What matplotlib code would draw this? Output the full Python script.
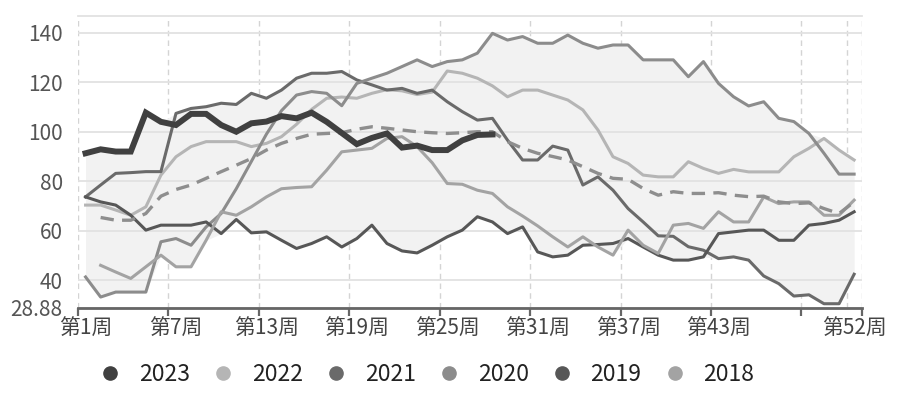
import numpy as np
import matplotlib
matplotlib.use("Agg")
import matplotlib.pyplot as plt
from matplotlib.lines import Line2D

plt.rcParams['font.family'] = ['Noto Sans CJK SC', 'DejaVu Sans']

nan = np.nan
weeks = np.arange(1, 53)

# weekly values
s2023 = [91.3, 92.9, 92.0, 92.0, 107.7, 104.0, 102.7, 107.2, 107.2, 102.7,
         100.0, 103.4, 104.1, 106.3, 105.4, 107.7, 104.0, 99.5, 95.0, 97.5,
         99.3, 93.6, 94.4, 92.6, 92.6, 96.5, 98.7, 98.9] + [nan] * 24
s2022 = [70.4, 70.4, 68.4, 66.3, 69.7, 82.5, 89.9, 94.0, 96.0, 96.0,
         96.0, 94.0, 95.3, 98.0, 103.0, 109.0, 113.5, 114.0, 113.5, 115.5,
         117.0, 116.5, 115.0, 116.0, 124.5, 123.6, 121.6, 118.5, 114.1, 116.8,
         116.8, 114.8, 112.8, 108.8, 100.7, 89.9, 87.2, 82.5, 81.8, 81.8,
         87.9, 85.2, 83.2, 84.8, 83.8, 83.8, 83.8, 89.9, 93.3, 97.3,
         92.6, 88.6]
s2021 = [73.7, 78.5, 83.2, 83.5, 83.9, 83.9, 107.4, 109.4, 110.1, 111.5,
         111.0, 115.5, 113.5, 116.8, 121.6, 123.6, 123.6, 124.3, 120.9, 118.9,
         116.8, 117.5, 115.5, 116.8, 112.1, 108.1, 104.7, 105.4, 96.6, 88.6,
         88.6, 94.2, 92.6, 78.5, 81.8, 76.4, 69.0, 63.6, 58.0, 57.8,
         53.6, 52.2, 48.8, 49.5, 48.2, 41.8, 38.7, 33.7, 34.2, 30.6,
         30.6, 42.5]
s2020 = [41.4, 33.3, 35.3, 35.3, 35.3, 55.6, 56.9, 54.2, 61.6, 67.0,
         77.0, 88.0, 99.0, 108.5, 114.8, 116.2, 115.5, 110.5, 119.5, 121.6,
         123.6, 126.3, 129.0, 126.3, 128.3, 129.0, 131.7, 139.7, 137.0, 138.4,
         135.7, 135.7, 139.0, 135.7, 133.7, 135.0, 135.0, 129.0, 129.0, 129.0,
         122.2, 128.3, 119.5, 114.1, 110.4, 112.1, 105.4, 104.1, 99.3, 91.3,
         82.9, 82.9]
s2019 = [73.7, 71.7, 70.4, 66.3, 60.3, 62.3, 62.3, 62.3, 63.6, 58.9,
         64.6, 59.2, 59.6, 56.2, 52.9, 54.9, 57.6, 53.5, 56.9, 62.3,
         54.9, 51.9, 51.1, 54.2, 57.6, 60.3, 65.7, 63.6, 58.9, 61.6,
         51.5, 49.5, 50.2, 54.2, 54.5, 54.9, 56.9, 53.5, 50.2, 48.2,
         48.2, 49.5, 58.9, 59.6, 60.3, 60.3, 56.2, 56.2, 62.3, 63.0,
         64.3, 67.7]
s2018 = [nan, 46.1, 43.4, 40.8, 45.5, 50.2, 45.5, 45.5, 56.2, 67.7,
         66.3, 69.7, 73.7, 77.0, 77.5, 77.8, 84.5, 91.9, 92.6, 93.3,
         97.3, 98.0, 94.0, 87.5, 79.1, 78.8, 76.4, 75.1, 69.7, 66.0,
         62.0, 57.6, 53.5, 57.6, 53.5, 50.2, 60.3, 54.2, 50.9, 62.3,
         63.0, 61.0, 67.7, 63.6, 63.6, 73.7, 71.0, 71.7, 71.7, 66.3,
         66.3, 72.4]
avg = [nan, 65.4, 64.3, 64.3, 67.0, 74.0, 76.7, 78.5, 81.2, 83.9,
       86.5, 89.2, 92.6, 95.3, 97.3, 99.0, 99.3, 99.6, 101.0, 102.0,
       101.4, 100.7, 100.0, 99.6, 99.3, 99.6, 100.0, 100.0, 96.0, 93.3,
       91.3, 90.0, 88.6, 85.9, 83.2, 81.2, 80.8, 77.1, 74.4, 75.8,
       75.1, 75.1, 75.4, 74.4, 73.8, 74.0, 71.7, 71.0, 71.3, 69.0,
       67.0, 71.7]

years = ['2023', '2022', '2021', '2020', '2019', '2018']
series = [s2023, s2022, s2021, s2020, s2019, s2018]
colors = ['#404040', '#b5b5b5', '#6a6a6a', '#8c8c8c', '#575757', '#a3a3a3']

label_weeks = [1, 7, 13, 19, 25, 31, 37, 43, 52]
y_ticks = [28.88, 40, 60, 80, 100, 120, 140]

fig = plt.figure(figsize=(9, 3.93), dpi=100)
ax = fig.add_axes([0.0867, 0.2163, 0.8707, 0.743])

data = np.array(series, dtype=float)
lo = np.nanmin(data, axis=0)
hi = np.nanmax(data, axis=0)
ax.fill_between(weeks, lo, hi, color='#f2f2f2', lw=0, zorder=1)

ax.set_xlim(0.5, 52.5)
ax.set_ylim(28.88, 146.7)

# grid
ax.set_yticks(y_ticks)
ax.set_yticklabels(['28.88', '40', '60', '80', '100', '120', '140'])
ax.grid(axis='y', color='#e2e2e2', lw=1.3, zorder=0)
bounds = [0.5, 6.5, 12.5, 18.5, 24.5, 30.5, 36.5, 42.5, 48.5, 51.5, 52.5]
for b in bounds:
    ax.axvline(b, color='#d4d4d4', lw=1, ls=(0, (4, 3)), zorder=0.5)

for k in range(1, 6):
    ax.plot(weeks, series[k], color=colors[k], lw=2.2, zorder=3)
ax.plot(weeks, avg, color='#8e8e8e', lw=2.4, ls=(0, (4, 2.5)), zorder=4)
ax.plot(weeks, s2023, color=colors[0], lw=4.3, zorder=5, solid_joinstyle='miter')

for s in ['left', 'right']:
    ax.spines[s].set_visible(False)
ax.spines['top'].set_color('#e2e2e2')
ax.spines['top'].set_linewidth(1.3)
ax.spines['bottom'].set_color('#666666')
ax.spines['bottom'].set_linewidth(2)

ax.tick_params(axis='y', length=0, pad=11, labelsize=15, labelcolor='#555555')
ax.set_xticks([0.5, 6.5, 12.5, 18.5, 24.5, 30.5, 36.5, 42.5, 48.5, 52.5])
ax.set_xticklabels([])
ax.tick_params(axis='x', which='major', length=6, width=1.6, color='#666666')
ax.set_xticks(label_weeks, ['第%d周' % w for w in label_weeks], minor=True)
ax.tick_params(axis='x', which='minor', length=0, pad=7, labelsize=15, labelcolor='#444444')

handles = [Line2D([], [], ls='none', marker='o', markersize=9.5, color=c) for c in colors]
fig.legend(handles, years, loc='center', bbox_to_anchor=(0.474, 0.047), ncol=6,
           frameon=False, fontsize=16.5, handlelength=1.0, handletextpad=0.75,
           columnspacing=0.95, labelcolor='#222222')

fig.savefig('out.png', dpi=100)
